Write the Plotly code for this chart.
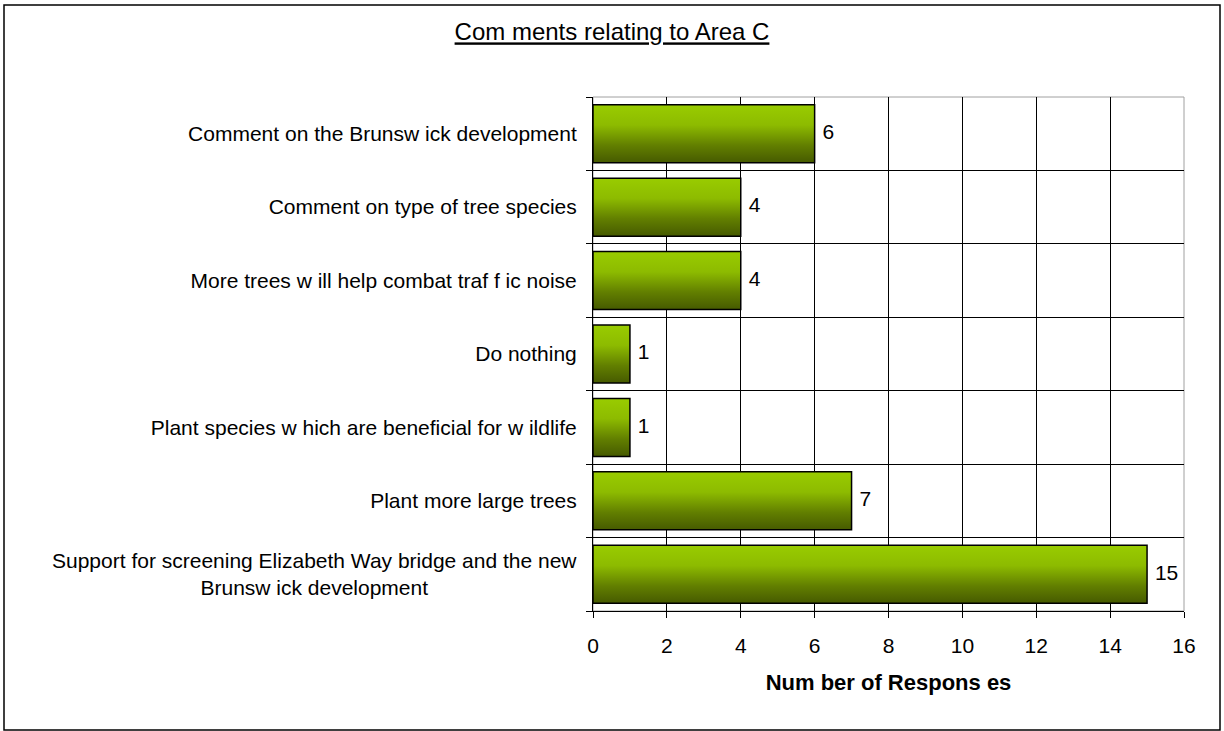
import plotly.graph_objects as go

# Data (bottom to top)
categories = [
    "Support for screening Elizabeth Way bridge and the new<br>Brunsw ick development",
    "Plant more large trees",
    "Plant species w hich are beneficial for w ildlife",
    "Do nothing",
    "More trees w ill help combat traf f ic noise",
    "Comment on type of tree species",
    "Comment on the Brunsw ick development",
]
responses = [15, 7, 1, 1, 4, 4, 6]
x_ticks = [0, 2, 4, 6, 8, 10, 12, 14, 16]

FONT = "Arial, Liberation Sans, sans-serif"
half = 0.395

fig = go.Figure()
positions = list(range(len(categories)))
for i, v in zip(positions, responses):
    fig.add_trace(go.Scatter(
        x=[0, v, v, 0, 0],
        y=[i - half, i - half, i + half, i + half, i - half],
        mode="lines",
        fill="toself",
        fillgradient=dict(
            type="vertical",
            colorscale=[[0, "#465a00"], [0.3, "#627f00"], [0.65, "#8dbb00"], [1, "#99cc00"]],
        ),
        line=dict(color="black", width=1.5),
        hoverinfo="skip",
        showlegend=False,
    ))

fig.add_trace(go.Scatter(
    x=responses, y=positions, mode="markers+text",
    marker=dict(size=11, opacity=0),
    text=[str(v) for v in responses],
    textposition="middle right",
    textfont=dict(family=FONT, size=21, color="black"),
    showlegend=False, hoverinfo="skip",
))

# multi-line labels drawn as centred annotations; single-line ones as tick labels
ticktext = ["" if "<br>" in c else c for c in categories]
annotations = [
    dict(text=c, xref="paper", x=0, y=p, yref="y", xanchor="right", xshift=-14,
         align="center", showarrow=False, font=dict(family=FONT, size=21, color="black"))
    for p, c in zip(positions, categories) if "<br>" in c
]

fig.update_layout(
    width=1224, height=731,
    paper_bgcolor="white", plot_bgcolor="white",
    margin=dict(l=593, r=40, t=97, b=120),
    font=dict(family=FONT, size=21, color="black"),
    title=dict(
        text="<u>Com ments relating to Area C</u>",
        x=612 / 1224, xref="container", xanchor="center",
        y=1 - 32 / 731, yref="container", yanchor="middle",
        font=dict(family=FONT, size=24, color="black"),
    ),
    xaxis=dict(
        range=[0, 16], tickvals=x_ticks, ticktext=[str(t) for t in x_ticks],
        showgrid=True, gridcolor="black", gridwidth=1,
        showline=True, linecolor="black", linewidth=1,
        ticks="outside", ticklen=6, tickcolor="black",
        tickfont=dict(family=FONT, size=21),
        ticklabelstandoff=10,
        zeroline=False,
        title=dict(text="<b>Num ber of Respons es</b>", standoff=18,
                   font=dict(family=FONT, size=22)),
    ),
    yaxis=dict(
        range=[-0.5, len(categories) - 0.5],
        tickvals=positions, ticktext=ticktext,
        ticks="", showgrid=False,
        showline=True, linecolor="black", linewidth=1,
        zeroline=False,
        tickfont=dict(family=FONT, size=21),
        ticklabelstandoff=11,
        minor=dict(
            tickvals=[p - 0.5 for p in positions] + [len(categories) - 0.5],
            showgrid=True, gridcolor="black", gridwidth=1,
            ticks="outside", ticklen=6, tickcolor="black",
        ),
    ),
    annotations=annotations,
    shapes=[
        dict(type="rect", xref="x domain", yref="y domain", x0=0, x1=1, y0=0, y1=1,
             line=dict(color="#a0a0a0", width=1), layer="below"),
        dict(type="rect", xref="paper", yref="paper",
             x0=-589 / 591, x1=1 + 36 / 591, y0=-119 / 514, y1=1 + 92 / 514,
             line=dict(color="black", width=1.5)),
    ],
)

fig.write_html("out.html", config={"displayModeBar": False},
               post_script="document.body.style.margin='0';document.body.style.overflow='hidden';")
